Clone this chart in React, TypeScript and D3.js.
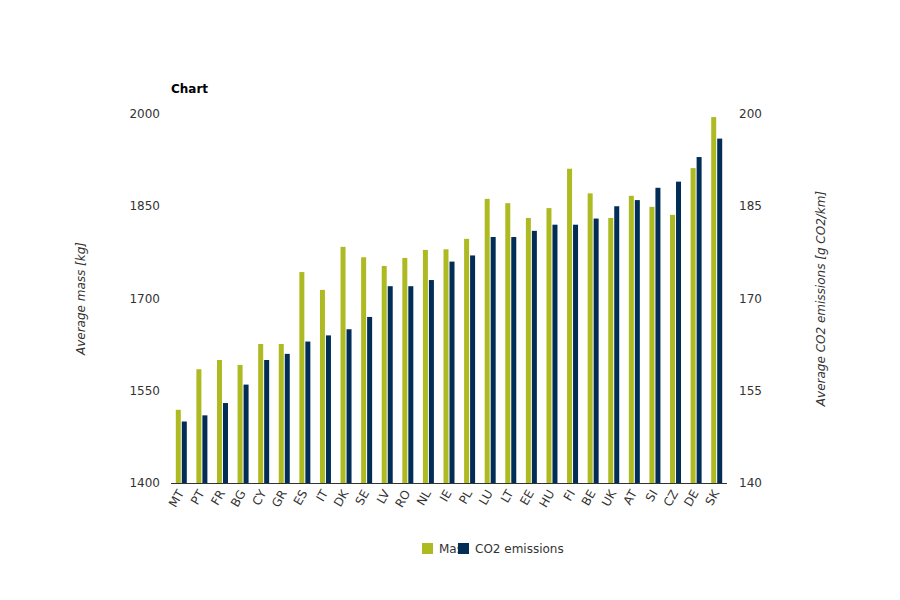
import React from "react";
import * as d3 from "d3";

const categories = ["MT","PT","FR","BG","CY","GR","ES","IT","DK","SE","LV","RO","NL","IE","PL","LU","LT","EE","HU","FI","BE","UK","AT","SI","CZ","DE","SK"].slice(0, 26);
const massValues = [1519,1585,1600,1592,1626,1626,1743,1714,1784,1767,1753,1766,1779,1780,1797,1862,1855,1831,1847,1911,1871,1831,1867,1849,1836,1912,1995];
const co2Values = [150,151,153,156,160,161,163,164,165,167,172,172,173,176,177,180,180,181,182,182,183,185,186,188,189,193,196];
const massTicks = [1400,1550,1700,1850,2000];
const co2Ticks = [140,155,170,185,200];
const seriesNames = ["Mass","CO2 emissions"];

const GREEN = "#aeba22";
const NAVY = "#022d56";
const FONT = "'DejaVu Sans', Verdana, sans-serif";

export default function App() {
  const cats = ["MT","PT","FR","BG","CY","GR","ES","IT","DK","SE","LV","RO","NL","IE","PL","LU","LT","EE","HU","FI","BE","UK","AT","SI","CZ","DE","SK"];
  const left = 171, right = 727, top = 114, bottom = 483;
  const x = d3.scaleBand<string>().domain(cats).range([left, right]).padding(0);
  const yM = d3.scaleLinear().domain([1400, 2000]).range([bottom, top]);
  const yC = d3.scaleLinear().domain([140, 200]).range([bottom, top]);
  const bw = x.bandwidth();
  const barW = 5;
  return (
    <div style={{ position: "absolute", left: 0, top: 0 }}>
      <svg width={900} height={600} style={{ display: "block", fontFamily: FONT }}>
        <rect width={900} height={600} fill="#fff" />
        <text x={171} y={93} fontSize={12} fontWeight="bold" fill="#000">Chart</text>
        {massTicks.map((t) => (
          <text key={"m" + t} x={160} y={yM(t) + 4} fontSize={12} textAnchor="end" fill="#333">{t}</text>
        ))}
        {co2Ticks.map((t) => (
          <text key={"c" + t} x={739} y={yC(t) + 4} fontSize={12} textAnchor="start" fill="#333">{t}</text>
        ))}
        <text transform={`translate(85,${(top + bottom) / 2}) rotate(-90)`} fontSize={12} fontStyle="italic" textAnchor="middle" fill="#333">Average mass [kg]</text>
        <text transform={`translate(825,${(top + bottom) / 2}) rotate(-90)`} fontSize={12} fontStyle="italic" textAnchor="middle" fill="#333">Average CO2 emissions [g CO2/km]</text>
        {cats.map((c, i) => {
          const cx = (x(c) as number) + bw / 2;
          return (
            <g key={c}>
              <rect x={cx - barW - 0.5} y={yM(massValues[i])} width={barW} height={bottom - yM(massValues[i])} fill={GREEN} />
              <rect x={cx + 0.5} y={yC(co2Values[i])} width={barW} height={bottom - yC(co2Values[i])} fill={NAVY} />
              <text transform={`translate(${cx + 3},${bottom + 10}) rotate(-60)`} fontSize={12} textAnchor="end" fill="#333">{c}</text>
            </g>
          );
        })}
        <line x1={left} x2={right} y1={bottom + 0.5} y2={bottom + 0.5} stroke="#333" strokeWidth={1} />
        <g fontSize={12} fill="#333">
          <rect x={422} y={543} width={11} height={11} fill={GREEN} />
          <text x={439} y={553}>{seriesNames[0]}</text>
          <rect x={458} y={543} width={11} height={11} fill={NAVY} />
          <text x={475} y={553}>{seriesNames[1]}</text>
        </g>
      </svg>
    </div>
  );
}
